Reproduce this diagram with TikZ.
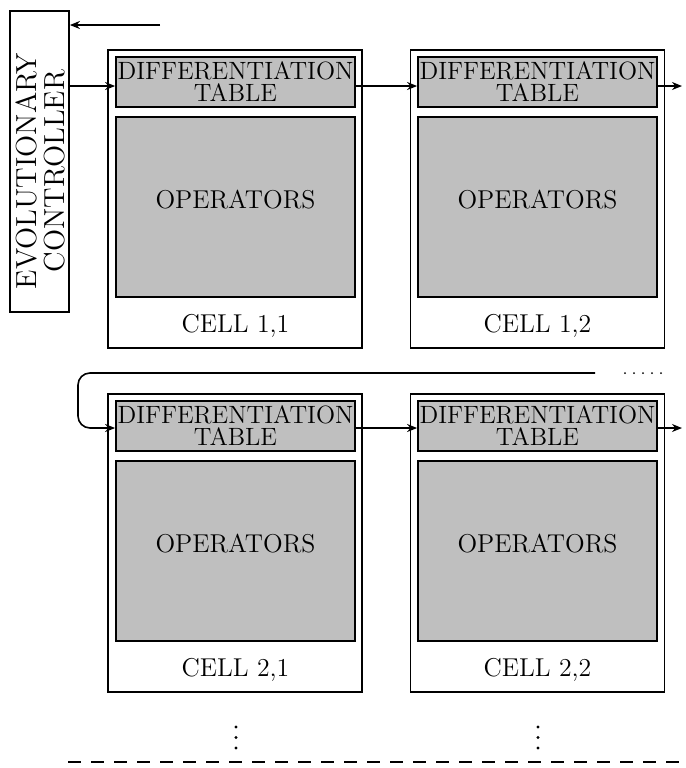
\documentclass[tikz,border=0pt]{standalone}
\usetikzlibrary{arrows.meta,calc}
\begin{document}
\begin{tikzpicture}[x=0.5pt,y=-0.5pt,
  box/.style={draw, line width=0.9pt, inner sep=0pt},
  cellbox/.style={box, minimum width=127pt, minimum height=149pt},
  tablebox/.style={box, fill=lightgray, minimum width=119.5pt, minimum height=25pt, align=center, font=\fontsize{12.5}{11}\selectfont},
  opbox/.style={box, fill=lightgray, minimum width=119.5pt, minimum height=90pt},
  lbl/.style={font=\fontsize{12.9}{15}\selectfont, inner sep=0pt},
  conn/.style={line width=0.8pt, -{Stealth[length=5pt,width=4pt]}},
  vdot/.style={circle, fill, inner sep=0pt, minimum size=1.6pt},
]
\useasboundingbox (0,0) rectangle (686,768);

% controller
\node[box, minimum width=29.5pt, minimum height=150.5pt] (ctrl) at (39.5,161.5) {};
\node[rotate=90, align=center, inner sep=0pt, font=\fontsize{14.5}{14}\selectfont] (ctrltext) at (40,171) {EVOLUTIONARY\\CONTROLLER};

% row 1
\node[cellbox] (c11) at (235,199) {};
\node[tablebox] (d11) at (235.5,82) {DIFFERENTIATION\\TABLE};
\node[opbox] (o11) at (235.5,207) {};
\node[lbl] (t11) at (235.5,200) {OPERATORS};
\node[lbl] (l11) at (235.5,326) {CELL 1,1};

\node[cellbox] (c12) at (537.5,199) {};
\node[tablebox] (d12) at (537.5,82) {DIFFERENTIATION\\TABLE};
\node[opbox] (o12) at (537.5,207) {};
\node[lbl] (t12) at (537.5,200) {OPERATORS};
\node[lbl] (l12) at (537.5,326) {CELL 1,2};

% row 2
\node[cellbox] (c21) at (235,543) {};
\node[tablebox] (d21) at (235.5,426) {DIFFERENTIATION\\TABLE};
\node[opbox] (o21) at (235.5,551) {};
\node[lbl] (t21) at (235.5,544) {OPERATORS};
\node[lbl] (l21) at (235.5,670) {CELL 2,1};

\node[cellbox] (c22) at (537.5,543) {};
\node[tablebox] (d22) at (537.5,426) {DIFFERENTIATION\\TABLE};
\node[opbox] (o22) at (537.5,551) {};
\node[lbl] (t22) at (537.5,544) {OPERATORS};
\node[lbl] (l22) at (537.5,670) {CELL 2,2};

% connectors
\coordinate (fb) at (160,25);
\draw[conn] (fb) -- (fb -| ctrl.east);
\draw[conn] ($(ctrl.east |- d11.west)+(0,4)$) -- ($(d11.west)+(0,4)$);
\draw[conn] ($(d11.east)+(0,4)$) -- ($(d12.west)+(0,4)$);
\coordinate (out1) at (682,86);
\draw[conn] ($(d12.east)+(0,4)$) -- (out1);

\coordinate (r0) at (595,373);
\draw[conn, rounded corners=6pt] (r0) -- (78,373) -- (78,428) -- ($(d21.west)+(0,2)$);
\coordinate (dotsA) at (625,373);
\coordinate (dotsB) at (662,373);
\draw[line width=1pt, line cap=round, dash pattern=on 0pt off 4.5pt] (dotsA) -- (dotsB);

\draw[conn] ($(d21.east)+(0,2)$) -- ($(d22.west)+(0,2)$);
\coordinate (out2) at (682,428);
\draw[conn] ($(d22.east)+(0,2)$) -- (out2);

% vertical dots
\foreach \yy [count=\i] in {727,737.5,748} {
  \node[vdot] (va\i) at (236,\yy) {};
  \node[vdot] (vb\i) at (538,\yy) {};
}

% dashed line
\coordinate (dl) at (68,762);
\coordinate (dr) at (686,762);
\draw[line width=1.1pt, dash pattern=on 6.5pt off 5pt] (dl) -- (dr);
\end{tikzpicture}
\end{document}
